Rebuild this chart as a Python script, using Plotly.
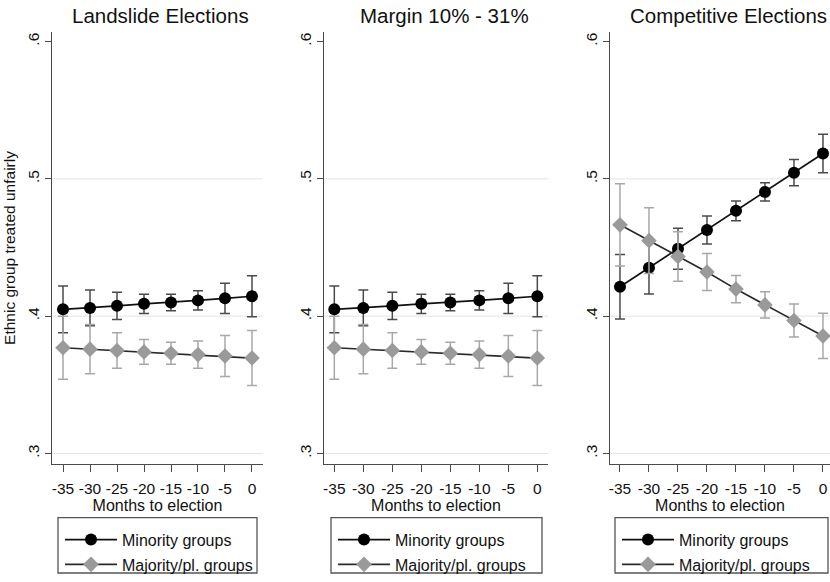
import plotly.graph_objects as go

months = [-35, -30, -25, -20, -15, -10, -5, 0]

panel_titles = ["Landslide Elections", "Margin 10% - 31%", "Competitive Elections"]
series_names = ["Minority groups", "Majority/pl. groups"]

landslide_minority = [0.405, 0.406, 0.4075, 0.409, 0.410, 0.4115, 0.413, 0.4145]
landslide_minority_err = [0.017, 0.013, 0.010, 0.007, 0.006, 0.007, 0.011, 0.015]
landslide_majority = [0.377, 0.376, 0.375, 0.374, 0.373, 0.372, 0.371, 0.3695]
landslide_majority_err = [0.023, 0.018, 0.013, 0.009, 0.008, 0.010, 0.015, 0.020]

margin_minority = [0.405, 0.406, 0.4075, 0.409, 0.410, 0.4115, 0.413, 0.4145]
margin_minority_err = [0.017, 0.013, 0.010, 0.007, 0.006, 0.007, 0.011, 0.015]
margin_majority = [0.377, 0.376, 0.375, 0.374, 0.373, 0.372, 0.371, 0.3695]
margin_majority_err = [0.023, 0.018, 0.013, 0.009, 0.008, 0.010, 0.015, 0.020]

competitive_minority = [0.4214, 0.4352, 0.4491, 0.4627, 0.4767, 0.4905, 0.5045, 0.5185]
competitive_minority_err = [0.0235, 0.019, 0.015, 0.0102, 0.0072, 0.0066, 0.0095, 0.014]
competitive_majority = [0.4665, 0.455, 0.4435, 0.4322, 0.4197, 0.4082, 0.3969, 0.3856]
competitive_majority_err = [0.030, 0.024, 0.018, 0.0135, 0.010, 0.0095, 0.012, 0.0165]

y_ticks = [0.3, 0.4, 0.5, 0.6]
y_ticklabels = [".3", ".4", ".5", ".6"]
grid_levels = [0.3, 0.4, 0.5]

panels = [
    (landslide_minority, landslide_minority_err, landslide_majority, landslide_majority_err),
    (margin_minority, margin_minority_err, margin_majority, margin_majority_err),
    (competitive_minority, competitive_minority_err, competitive_majority, competitive_majority_err),
]

W, H = 830, 582
FONT = "Liberation Sans, Arial, sans-serif"

# pixel layout of each panel: (left, right) plot edges, x range
x_domains_px = [(52, 263), (324, 548), (610, 830)]
x_ranges = [[-37.04, 2.04], [-36.78, 1.84], [-36.72, 1.21]]
title_centers_px = [160, 444, 728]
legend_boxes_px = [(58, 257), (331, 542), (615, 828)]
y_dom = [1 - 470 / H, 1 - 32 / H]
y_range = [0.2921, 0.6072]

fig = go.Figure()
legend_ids = ["legend", "legend2", "legend3"]

for i, (mino, mino_e, majo, majo_e) in enumerate(panels):
    xa = "x" if i == 0 else f"x{i+1}"
    ya = "y" if i == 0 else f"y{i+1}"
    fig.add_trace(go.Scatter(
        x=months, y=mino, name=series_names[0], mode="lines+markers",
        xaxis=xa, yaxis=ya, legend=legend_ids[i], legendgroup="a",
        line=dict(color="#111111", width=1.7),
        marker=dict(symbol="circle", size=12, color="#000000"),
        error_y=dict(type="data", array=mino_e, visible=True, color="#4a4a4a",
                     thickness=1.5, width=5),
    ))
    fig.add_trace(go.Scatter(
        x=months, y=majo, name=series_names[1], mode="lines+markers",
        xaxis=xa, yaxis=ya, legend=legend_ids[i], legendgroup="b",
        line=dict(color="#2a2a2a", width=1.7),
        marker=dict(symbol="diamond", size=12, color="#9a9a9a"),
        error_y=dict(type="data", array=majo_e, visible=True, color="#a8a8a8",
                     thickness=1.5, width=5),
    ))

layout = dict(
    width=W, height=H,
    margin=dict(l=0, r=0, t=0, b=0),
    paper_bgcolor="white", plot_bgcolor="white",
    font=dict(family=FONT, size=15, color="#111111"),
    showlegend=True,
)

axis_color = "#4a4a4a"
for i in range(3):
    xk = "xaxis" if i == 0 else f"xaxis{i+1}"
    yk = "yaxis" if i == 0 else f"yaxis{i+1}"
    l, r = x_domains_px[i]
    layout[xk] = dict(
        domain=[l / W, r / W], range=x_ranges[i], anchor="y" if i == 0 else f"y{i+1}",
        tickvals=months, ticktext=[str(m) for m in months],
        ticks="outside", ticklen=7, tickcolor=axis_color, tickwidth=1.2,
        ticklabelstandoff=3,
        showline=True, linecolor=axis_color, linewidth=1.3,
        showgrid=False, zeroline=False,
        tickfont=dict(size=15.5, color="#111111"),
        title=dict(text="Months to election", font=dict(size=16), standoff=2),
        fixedrange=True,
    )
    layout[yk] = dict(
        domain=y_dom, range=y_range, anchor="x" if i == 0 else f"x{i+1}",
        tickvals=y_ticks, ticktext=y_ticklabels, tickangle=-90,
        ticks="outside", ticklen=6, tickcolor=axis_color, tickwidth=1.2,
        showline=True, linecolor=axis_color, linewidth=1.3,
        showgrid=False, zeroline=False,
        tickfont=dict(size=15.5, color="#111111"),
        fixedrange=True,
    )
layout["yaxis"]["title"] = dict(text="Ethnic group treated unfairly", font=dict(size=15.5), standoff=5)

shapes = []
annotations = []
for i in range(3):
    xref = "x domain" if i == 0 else f"x{i+1} domain"
    yref = "y" if i == 0 else f"y{i+1}"
    for g in grid_levels:
        shapes.append(dict(type="line", xref=xref, yref=yref, x0=0, x1=1, y0=g, y1=g,
                           line=dict(color="#e4e4e4", width=1), layer="below"))
    bl, br = legend_boxes_px[i]
    shapes.append(dict(type="rect", xref="paper", yref="paper",
                       x0=bl / W, x1=br / W, y0=1 - 580 / H, y1=1 - 524 / H,
                       line=dict(color="#555555", width=1.3), fillcolor="rgba(0,0,0,0)"))
    annotations.append(dict(text=panel_titles[i], xref="paper", yref="paper",
                            x=title_centers_px[i] / W, y=1 - 16 / H,
                            xanchor="center", yanchor="middle", showarrow=False,
                            font=dict(size=20.5, color="#111111")))
    lk = legend_ids[i]
    layout[lk] = dict(
        x=(bl + 2) / W, y=1 - 529 / H, xanchor="left", yanchor="top",
        xref="paper", yref="paper",
        bgcolor="rgba(0,0,0,0)", borderwidth=0,
        font=dict(size=16, color="#111111"),
        itemwidth=52, tracegroupgap=1, traceorder="grouped",
    )

layout["shapes"] = shapes
layout["annotations"] = annotations
fig.update_layout(**layout)

fig.write_html("out.html")
